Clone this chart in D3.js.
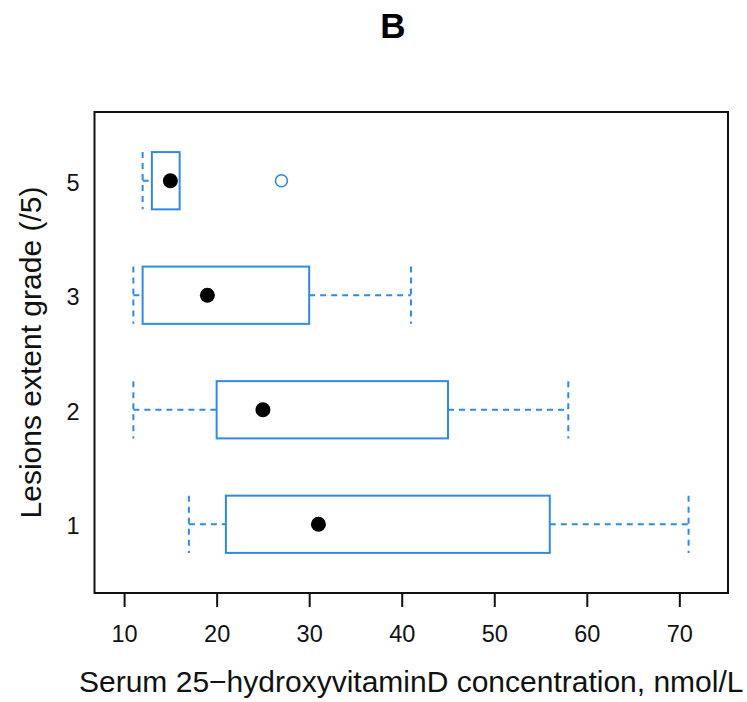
<!DOCTYPE html>
<html>
<head>
<meta charset="utf-8">
<script src="https://cdn.jsdelivr.net/npm/d3@7"></script>
<style>
  body { margin: 0; background: #fff; }
  text { font-family: "Liberation Sans", Arial, Helvetica, sans-serif; }
</style>
</head>
<body>
<script>
// lesion grade groups, bottom to top
var groups = ["1", "2", "3", "5"];
var q1 = [21, 20, 12, 13];
var q3 = [56, 45, 30, 16];
var whiskLo = [17, 11, 11, 12];
var whiskHi = [71, 58, 41, 16];
var means = [31, 25, 19, 15];
var outGroup = ["5"];
var outValue = [27];
var xTicks = [10, 20, 30, 40, 50, 60, 70];

var width = 747;
var height = 702;
var blue = "#2f8ae6";

var svg = d3.select("body")
  .append("svg")
  .attr("width", width)
  .attr("height", height);

var plot = { left: 94.5, right: 728, top: 112, bottom: 593 };

var x = d3.scaleLinear().domain([6.8, 75.26]).range([plot.left, plot.right]);
var y = d3.scaleLinear().domain([0.4, 4.6]).range([plot.bottom, plot.top]);
var boxHalf = 0.25;

function gy(g) {
  return y(groups.indexOf(g) + 1);
}

var idx = d3.range(groups.length);

// whiskers (dashed)
var wh = svg.append("g")
  .attr("stroke", blue)
  .attr("stroke-width", 2)
  .attr("stroke-dasharray", "6,5")
  .attr("fill", "none");

wh.selectAll(".lo").data(idx).enter().append("line")
  .attr("x1", function (i) { return x(whiskLo[i]); })
  .attr("x2", function (i) { return x(q1[i]); })
  .attr("y1", function (i) { return y(i + 1); })
  .attr("y2", function (i) { return y(i + 1); });

wh.selectAll(".hi").data(idx).enter().append("line")
  .attr("x1", function (i) { return x(q3[i]); })
  .attr("x2", function (i) { return x(whiskHi[i]); })
  .attr("y1", function (i) { return y(i + 1); })
  .attr("y2", function (i) { return y(i + 1); });

// caps
wh.selectAll(".capLo").data(idx).enter().append("line")
  .attr("x1", function (i) { return x(whiskLo[i]); })
  .attr("x2", function (i) { return x(whiskLo[i]); })
  .attr("y1", function (i) { return y(i + 1 + boxHalf); })
  .attr("y2", function (i) { return y(i + 1 - boxHalf); });

wh.selectAll(".capHi").data(idx.filter(function (i) { return whiskHi[i] > q3[i]; }))
  .enter().append("line")
  .attr("x1", function (i) { return x(whiskHi[i]); })
  .attr("x2", function (i) { return x(whiskHi[i]); })
  .attr("y1", function (i) { return y(i + 1 + boxHalf); })
  .attr("y2", function (i) { return y(i + 1 - boxHalf); });

// boxes
svg.selectAll(".box").data(idx).enter().append("rect")
  .attr("fill", "#fff")
  .attr("stroke", blue)
  .attr("stroke-width", 2)
  .attr("x", function (i) { return x(q1[i]); })
  .attr("y", function (i) { return y(i + 1 + boxHalf); })
  .attr("width", function (i) { return x(q3[i]) - x(q1[i]); })
  .attr("height", function (i) { return y(i + 1 - boxHalf) - y(i + 1 + boxHalf); });

// outliers
svg.selectAll(".out").data(outValue).enter().append("circle")
  .attr("cx", function (d) { return x(d); })
  .attr("cy", function (d, i) { return gy(outGroup[i]); })
  .attr("r", 6)
  .attr("fill", "#fff")
  .attr("stroke", blue)
  .attr("stroke-width", 1.6);

// means
svg.selectAll(".mean").data(idx).enter().append("circle")
  .attr("cx", function (i) { return x(means[i]); })
  .attr("cy", function (i) { return y(i + 1); })
  .attr("r", 7.5)
  .attr("fill", "#000");

// frame
svg.append("rect")
  .attr("x", plot.left)
  .attr("y", plot.top)
  .attr("width", plot.right - plot.left)
  .attr("height", plot.bottom - plot.top)
  .attr("fill", "none")
  .attr("stroke", "#111")
  .attr("stroke-width", 2);

// x axis
var xAxis = svg.append("g")
  .attr("transform", "translate(0," + plot.bottom + ")")
  .call(d3.axisBottom(x).tickValues(xTicks).tickSize(14).tickPadding(18));
xAxis.select(".domain").remove();
xAxis.selectAll("line").attr("stroke", "#111").attr("stroke-width", 2);
xAxis.selectAll("text")
  .attr("font-size", "23.5px")
  .attr("font-family", "Liberation Sans, Arial, sans-serif")
  .attr("fill", "#111");

// y labels, no ticks
var yAxis = svg.append("g")
  .attr("transform", "translate(" + plot.left + ",0)")
  .call(d3.axisLeft(y).tickValues([1, 2, 3, 4])
    .tickFormat(function (d) { return groups[d - 1]; })
    .tickSize(0).tickPadding(15));
yAxis.select(".domain").remove();
yAxis.selectAll("text")
  .attr("font-size", "23.5px")
  .attr("font-family", "Liberation Sans, Arial, sans-serif")
  .attr("fill", "#111")
  .attr("dy", "0.4em");

// titles
svg.append("text")
  .attr("x", 393)
  .attr("y", 38)
  .attr("text-anchor", "middle")
  .attr("font-size", "35px")
  .attr("font-weight", "bold")
  .attr("fill", "#000")
  .text("B");

svg.append("text")
  .attr("x", (plot.left + plot.right) / 2)
  .attr("y", 692)
  .attr("text-anchor", "middle")
  .attr("font-size", "30px")
  .attr("fill", "#111")
  .text("Serum 25\u2212hydroxyvitaminD concentration, nmol/L");

svg.append("text")
  .attr("transform", "translate(41," + (plot.top + plot.bottom) / 2 + ") rotate(-90)")
  .attr("text-anchor", "middle")
  .attr("font-size", "30px")
  .attr("fill", "#111")
  .text("Lesions extent grade (/5)");
</script>
</body>
</html>
